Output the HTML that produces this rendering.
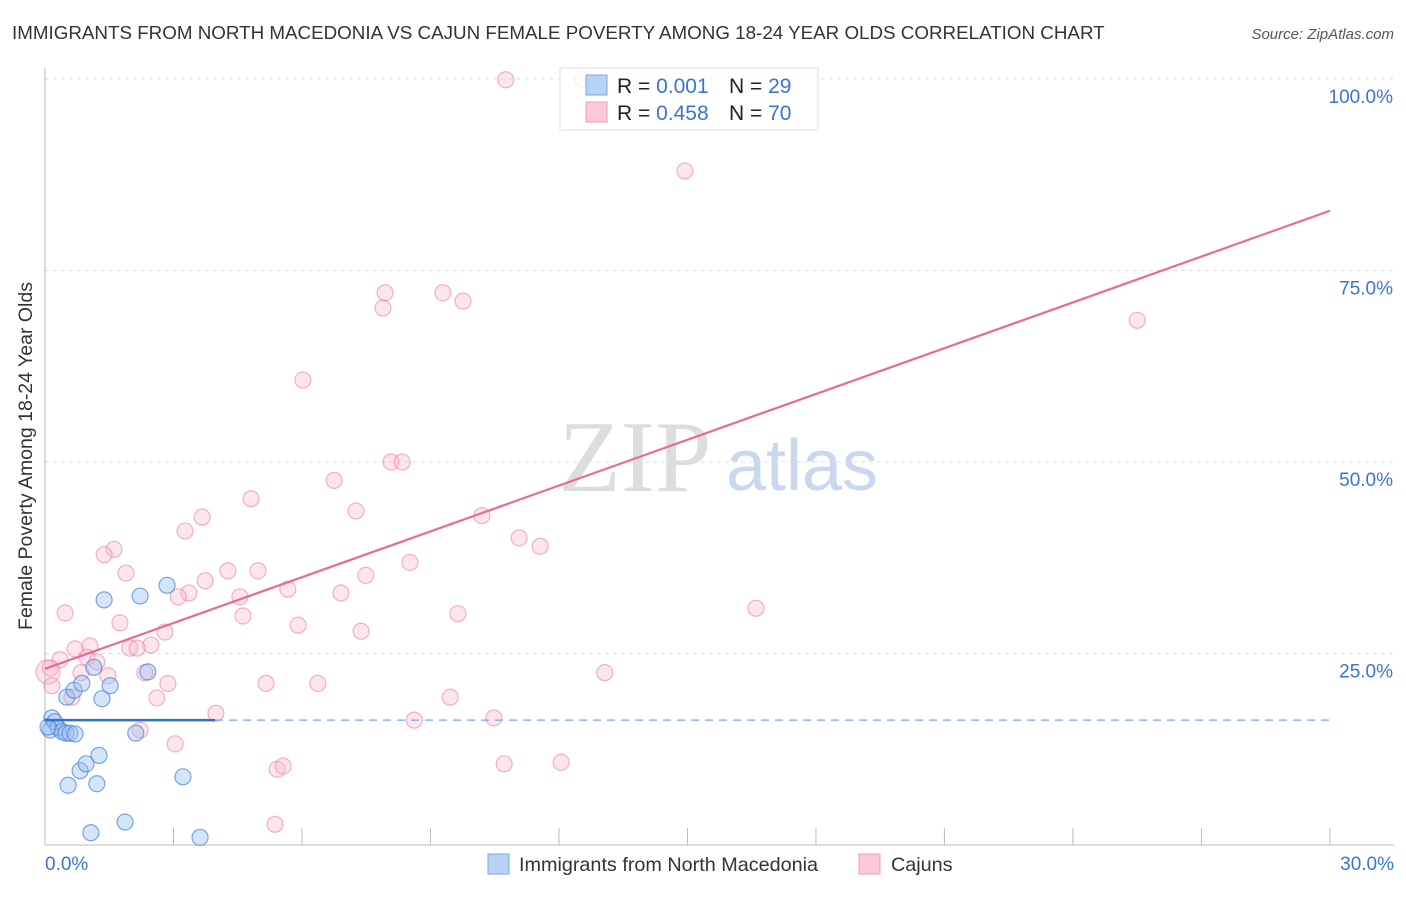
<!DOCTYPE html>
<html><head><meta charset="utf-8"><style>
body{margin:0;background:#fff;font-family:"Liberation Sans",sans-serif;}
</style></head><body>
<svg id="c" width="1406" height="892" xmlns="http://www.w3.org/2000/svg" style="font-family:'Liberation Sans',sans-serif">
<text x="12" y="39" font-size="18.8" fill="#333">IMMIGRANTS FROM NORTH MACEDONIA VS CAJUN FEMALE POVERTY AMONG 18-24 YEAR OLDS CORRELATION CHART</text>
<text x="1394" y="39" font-size="15" fill="#555" font-style="italic" text-anchor="end">Source: ZipAtlas.com</text>
<text x="635" y="491" font-size="102" fill="#ddd" font-family="'Liberation Serif',serif" text-anchor="middle">ZIP</text>
<text x="802" y="490" font-size="72" fill="#c9d8ee" text-anchor="middle">atlas</text>
<g id="grid"></g>
<g id="marks"></g>
<text x="32" y="456" font-size="19.5" fill="#333" text-anchor="middle" transform="rotate(-90 32 456)">Female Poverty Among 18-24 Year Olds</text>
<g>
<rect x="560" y="68" width="258" height="62" fill="rgba(255,255,255,0.8)" stroke="#ddd"/>
<rect x="586" y="75" width="21" height="20" fill="#b8d2f5" stroke="#7aa7e6"/>
<rect x="586" y="102" width="21" height="20" fill="#fbc9d7" stroke="#f09ab4"/>
<text x="617" y="93" font-size="21" fill="#222">R = <tspan fill="#3a74d4">0.001</tspan><tspan x="729">N = </tspan><tspan fill="#3a74d4">29</tspan></text>
<text x="617" y="120" font-size="21" fill="#222">R = <tspan fill="#3a74d4">0.458</tspan><tspan x="729">N = </tspan><tspan fill="#3a74d4">70</tspan></text>
</g>
<g>
<rect x="488" y="854" width="21" height="20" fill="#b8d2f5" stroke="#7aa7e6"/>
<text x="519" y="871" font-size="19.8" fill="#333">Immigrants from North Macedonia</text>
<rect x="859" y="854" width="21" height="20" fill="#fbc9d7" stroke="#f09ab4"/>
<text x="891" y="871" font-size="19.8" fill="#333">Cajuns</text>
</g>
</svg>
<script>
const yTicks=[25,50,75,100];
const xTickLabels=["0.0%","30.0%"];
const blueX=[0.12,0.16,0.23,0.30,0.40,0.49,0.58,0.70,0.51,0.68,0.86,1.14,1.33,1.52,1.38,2.22,2.85,2.40,2.12,0.82,0.96,1.26,0.54,1.21,3.22,1.87,1.07,3.62,0.07];
const blueY=[15.0,16.6,16.1,15.3,14.8,14.6,14.6,14.5,19.3,20.2,21.1,23.2,19.1,20.8,32.0,32.5,33.9,22.6,14.6,9.7,10.6,11.7,7.8,8.0,8.9,3.0,1.6,1.0,15.4];
const pinkX=[10.76,12.56,14.94,7.94,7.89,9.29,9.76,25.50,6.02,6.75,8.08,8.34,4.81,7.26,3.67,3.27,10.20,11.07,11.56,1.61,1.38,1.89,4.27,4.97,7.49,8.52,3.74,5.67,3.36,3.11,4.55,6.91,16.60,4.62,9.64,0.47,1.75,5.91,7.38,2.80,1.05,2.47,0.70,1.98,2.15,0.98,1.21,0.35,0.12,0.07,0.84,1.47,2.33,13.07,2.87,0.16,5.16,6.37,0.63,2.61,9.46,3.99,8.62,10.48,2.22,3.04,5.42,5.56,10.72,12.05,5.37];
const pinkY=[99.9,99.9,88.0,72.1,70.1,72.1,71.0,68.5,60.7,47.6,50.0,50.0,45.2,43.6,42.8,41.0,43.0,40.1,39.0,38.6,37.9,35.5,35.8,35.8,35.2,36.9,34.5,33.4,32.9,32.4,32.4,32.9,30.9,29.9,30.2,30.3,29.0,28.7,27.9,27.8,26.0,26.1,25.6,25.7,25.7,24.5,23.9,24.2,23.1,22.6,22.5,22.1,22.5,22.5,21.1,20.8,21.1,21.1,19.3,19.2,19.3,17.2,16.3,16.6,15.0,13.2,9.9,10.3,10.6,10.8,2.7];
const pinkTrend=[23.0,82.8];
const blueTrend=[16.3,16.3];
const blueSolidEnd=3.97;
const X=v=>45+v*42.83, Y=v=>845-v*7.66;
const NS="http://www.w3.org/2000/svg";
const g=document.getElementById('grid'), m=document.getElementById('marks');
function el(t,a,p){const e=document.createElementNS(NS,t);for(const k in a)e.setAttribute(k,a[k]);p.appendChild(e);return e;}
yTicks.forEach(t=>{
  const l=el('line',{x1:45,x2:1394,y1:Y(t),y2:Y(t),stroke:'#ddd','stroke-dasharray':'4,4'},g);
  
  
  const tx=el('text',{x:1393,y:Y(t)+24,'font-size':19,fill:'#3a74d4','text-anchor':'end'},g);
  tx.textContent=t.toFixed(1)+'%';
  
  
});
const ax=el('line',{x1:45,x2:45,y1:68,y2:845,stroke:'#bbb'},g);


const bx=el('line',{x1:45,x2:1394,y1:845,y2:845,stroke:'#bbb'},g);


for(let i=1;i<=10;i++){const tk=el('line',{x1:X(i*3),x2:X(i*3),y1:828,y2:845,stroke:'#bbb'},g);
  
  }
[[0,'start',45],[30,'end',1394]].forEach((d,i)=>{const tx=el('text',{x:d[2],y:870,'font-size':19,fill:'#3a74d4','text-anchor':d[1]},g);tx.textContent=xTickLabels[i];
  
  });
pinkX.forEach((x,i)=>{const r=(i==49)?12:8;const c=el('circle',{cx:X(x),cy:Y(pinkY[i]),r:r,fill:'rgba(248,180,200,0.35)',stroke:'rgba(235,130,165,0.6)','stroke-width':1.2},m);
  
  });
blueX.forEach((x,i)=>{const c=el('circle',{cx:X(x),cy:Y(blueY[i]),r:8,fill:'rgba(150,190,240,0.4)',stroke:'rgba(70,130,220,0.7)','stroke-width':1.2},m);
  
  });
const pl=el('line',{x1:X(0),y1:Y(pinkTrend[0]),x2:X(30),y2:Y(pinkTrend[1]),stroke:'#e8699a','stroke-width':2.2},m);


const bl=el('line',{x1:X(0),y1:Y(blueTrend[0]),x2:X(blueSolidEnd),y2:Y(blueTrend[0]),stroke:'#2f6fd0','stroke-width':2.5},m);


const bd=el('line',{x1:X(blueSolidEnd),y1:Y(blueTrend[0]),x2:X(30),y2:Y(blueTrend[1]),stroke:'#7aa7e6','stroke-width':1.2,'stroke-dasharray':'8,6'},m);


</script>
</body></html>
